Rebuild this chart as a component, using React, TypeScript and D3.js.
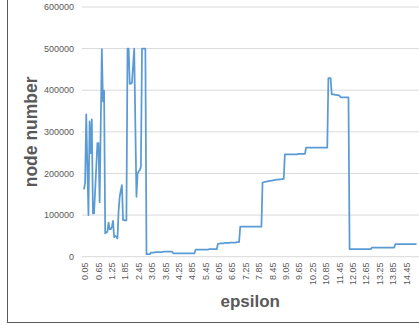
import React from "react";
import * as d3 from "d3";

// node number values (in thousands), one per epsilon step of 0.05 starting at 0.05
const nodeThousands: number[] = [
  162, 178, 342, 220, 100, 325, 249, 330, 104, 104,
  160, 215, 273, 273, 131, 315, 499, 373, 399, 56,
  58, 60, 82, 66, 66, 72, 86, 47, 50, 48,
  44, 110, 144, 160, 172, 88, 88, 87, 87, 500,
  500, 415, 416, 418, 460, 500, 320, 144, 200, 205,
  208, 216, 500, 500, 500, 500, 6, 6, 6, 6,
  // 3.05 - 4.00
  10, 10, 10, 10, 11, 11, 11, 11, 11, 11, 11, 12, 12, 12, 12, 12, 12, 12, 12, 12,
  // 4.05 - 5.00
  8, 8, 8, 8, 8, 8, 8, 8, 8, 8, 8, 8, 8, 8, 8, 8, 8, 8, 8, 8,
  // 5.05 - 6.00
  17, 17, 17, 17, 17, 17, 17, 17, 17, 17, 17, 17, 18, 18, 18, 18, 18, 18, 18, 18,
  // 6.05 - 7.00
  31, 31, 32, 32, 32, 32, 33, 33, 33, 33, 33, 34, 34, 34, 34, 34, 34, 35, 35, 35,
  // 7.05 - 8.00
  72, 72, 72, 72, 72, 72, 72, 72, 72, 72, 72, 72, 72, 72, 72, 72, 72, 72, 72, 72,
  // 8.05 - 9.00
  178, 179, 180, 180, 181, 181, 182, 182, 183, 183, 184, 184, 185, 185, 185, 186, 186, 186, 187, 187,
  // 9.05 - 9.95
  246, 246, 246, 246, 246, 246, 246, 246, 246, 246, 246, 246, 247, 247, 247, 247, 247, 247, 247,
  // 10.00 - 10.95
  262, 262, 262, 262, 262, 262, 262, 262, 262, 262, 262, 262, 262, 262, 262, 262, 262, 262, 262, 262,
  // 11.00 - 11.10
  429, 429, 429,
  // 11.15 - 11.50
  390, 390, 390, 389, 389, 388, 388, 387,
  // 11.55 - 11.90
  383, 383, 383, 383, 383, 383, 383, 383,
  // 11.95 - 12.90
  18, 18, 18, 18, 18, 18, 18, 18, 18, 18, 18, 18, 18, 18, 18, 18, 18, 18, 18, 18,
  // 12.95 - 13.95
  22, 22, 22, 22, 22, 22, 22, 22, 22, 22, 22, 22, 22, 22, 22, 22, 22, 22, 22, 22, 22,
  // 14.00 - 14.95
  30, 30, 30, 30, 30, 30, 30, 30, 30, 30, 30, 30, 30, 30, 30, 30, 30, 30, 30, 30,
];

const epsilonCategories: string[] = nodeThousands.map((_, i) => ((i + 1) * 0.05).toFixed(2));

const xTickLabels: string[] = [
  "0.05", "0.65", "1.25", "1.85", "2.45", "3.05", "3.65", "4.25", "4.85",
  "5.45", "6.05", "6.65", "7.25", "7.85", "8.45", "9.05", "9.65", "10.25",
  "10.85", "11.45", "12.05", "12.65", "13.25", "13.85", "14.45",
];

const yTicks: number[] = [0, 100000, 200000, 300000, 400000, 500000, 600000];

const W = 419;
const H = 326;
const plotLeft = 83.44;
const plotRight = 417.1;
const plotTop = 7;
const plotBottom = 256.7;

export default function App() {
  const x = d3.scaleBand<string>().domain(epsilonCategories).range([plotLeft, plotRight]).padding(0);
  const y = d3.scaleLinear().domain([0, 600000]).range([plotBottom, plotTop]);
  const cx = (c: string) => (x(c) as number) + x.bandwidth() / 2;

  const line = d3
    .line<number>()
    .x((_, i) => cx(epsilonCategories[i]))
    .y((d) => y(d * 1000));

  const font = "'Liberation Sans', Arial, sans-serif";

  return (
    <svg
      width={W}
      height={H}
      style={{ position: "absolute", left: 0, top: 0, background: "#fff" }}
      xmlns="http://www.w3.org/2000/svg"
    >
      <rect x={0} y={0} width={W} height={H} fill="#fff" />
      <rect x={7.5} y={-10} width={600} height={332.5} fill="none" stroke="#595959" strokeWidth={1} />
      {yTicks.map((t) => (
        <g key={t}>
          <line x1={82} x2={W} y1={y(t)} y2={y(t)} stroke="#d9d9d9" strokeWidth={1} />
          <text
            x={74}
            y={y(t)}
            dy="0.35em"
            textAnchor="end"
            fontFamily={font}
            fontSize={9}
            fill="#595959"
          >
            {t}
          </text>
        </g>
      ))}
      {xTickLabels.map((lab) => (
        <text
          key={lab}
          transform={`translate(${cx(lab) + 1},262.5) rotate(-90)`}
          dy="0.35em"
          textAnchor="end"
          fontFamily={font}
          fontSize={9}
          fill="#595959"
        >
          {lab}
        </text>
      ))}
      <path d={line(nodeThousands) || ""} fill="none" stroke="#5B9BD5" strokeWidth={1.75} strokeLinejoin="round" />
      <text
        transform={`translate(37.3,${(plotTop + plotBottom) / 2}) rotate(-90)`}
        textAnchor="middle"
        fontFamily={font}
        fontWeight="bold"
        fontSize={17.5}
        fill="#595959"
      >
        node number
      </text>
      <text
        x={(plotLeft + plotRight) / 2}
        y={307.3}
        textAnchor="middle"
        fontFamily={font}
        fontWeight="bold"
        fontSize={17}
        fill="#595959"
      >
        epsilon
      </text>
    </svg>
  );
}
